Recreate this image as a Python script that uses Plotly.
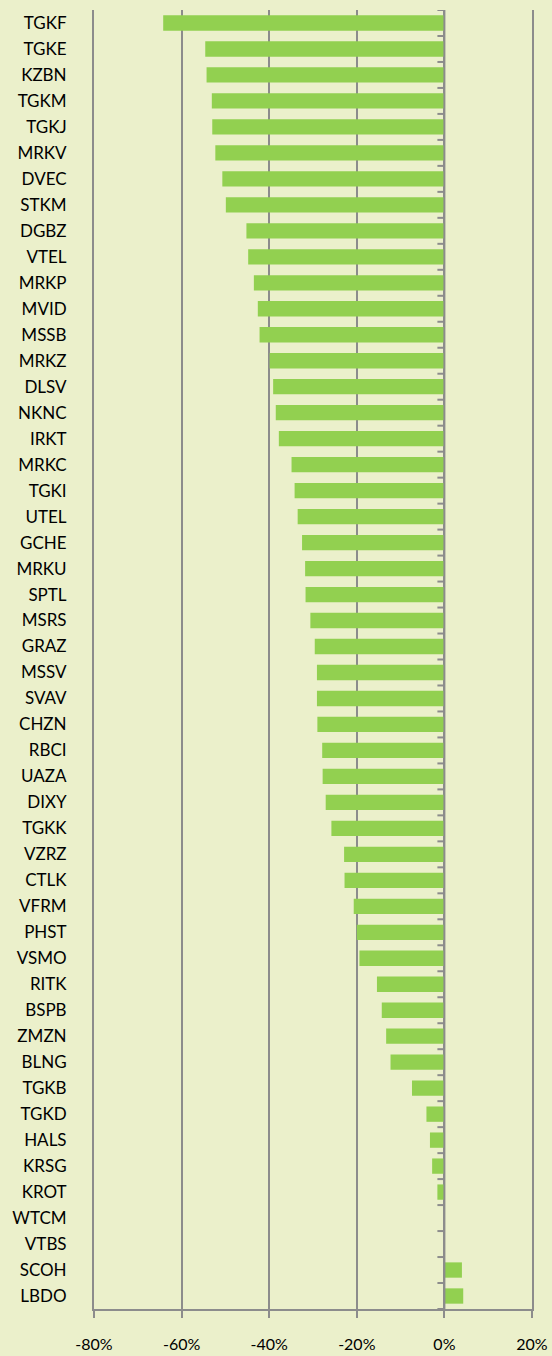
import plotly.graph_objects as go

categories = ["TGKF", "TGKE", "KZBN", "TGKM", "TGKJ", "MRKV", "DVEC", "STKM", "DGBZ", "VTEL",
              "MRKP", "MVID", "MSSB", "MRKZ", "DLSV", "NKNC", "IRKT", "MRKC", "TGKI", "UTEL",
              "GCHE", "MRKU", "SPTL", "MSRS", "GRAZ", "MSSV", "SVAV", "CHZN", "RBCI", "UAZA",
              "DIXY", "TGKK", "VZRZ", "CTLK", "VFRM", "PHST", "VSMO", "RITK", "BSPB", "ZMZN",
              "BLNG", "TGKB", "TGKD", "HALS", "KRSG", "KROT", "WTCM", "VTBS", "SCOH", "LBDO"]

values = [-64.2, -54.6, -54.3, -53.1, -53.0, -52.3, -50.7, -49.9, -45.2, -44.8,
          -43.5, -42.6, -42.2, -39.9, -39.1, -38.5, -37.8, -34.9, -34.2, -33.5,
          -32.5, -31.8, -31.7, -30.6, -29.6, -29.1, -29.1, -29.0, -27.9, -27.8,
          -27.1, -25.8, -22.9, -22.8, -20.7, -20.0, -19.4, -15.4, -14.3, -13.3,
          -12.3, -7.4, -4.1, -3.3, -2.8, -1.6, 0.0, 0.0, 4.0, 4.3]

x_tick_values = [-80, -60, -40, -20, 0, 20]
x_tick_labels = ["-80%", "-60%", "-40%", "-20%", "0%", "20%"]

BG = "rgb(235,240,203)"
GRID = "#8c8c8c"
FONT = "Lato"

n = len(categories)
positions = list(range(n))

fig = go.Figure(go.Bar(
    x=values, y=positions, orientation="h",
    marker=dict(color="#92D050", line=dict(width=0)),
    hoverinfo="x+text", text=categories, textposition="none",
))

# category tick marks on the vertical axis at 0
shapes = []
for k in range(n + 1):
    yb = k - 0.5
    shapes.append(dict(type="line", xref="x", yref="y", xsizemode="pixel", xanchor=0,
                       x0=-7, x1=0, y0=yb, y1=yb, line=dict(color=GRID, width=2), layer="above"))
# vertical axis line at 0
shapes.append(dict(type="line", xref="x", yref="paper", x0=0, x1=0, y0=0, y1=1,
                   line=dict(color=GRID, width=2), layer="above"))

fig.update_layout(
    width=552, height=1356,
    margin=dict(l=94, r=20, t=10, b=47),
    paper_bgcolor=BG, plot_bgcolor=BG,
    font=dict(family=FONT, size=17, color="#000000"),
    bargap=0.41,
    showlegend=False,
    shapes=shapes,
    xaxis=dict(
        range=[-80, 20], tickvals=x_tick_values, ticktext=x_tick_labels,
        showgrid=True, gridcolor=GRID, gridwidth=2,
        zeroline=False,
        showline=True, linecolor=GRID, linewidth=2, mirror=False,
        ticks="outside", ticklen=7, tickwidth=2, tickcolor=GRID,
        ticklabelstandoff=13,
        tickfont=dict(family=FONT, size=16, color="#000000"),
        automargin=False,
        fixedrange=True,
    ),
    yaxis=dict(
        range=[n - 0.5, -0.5], tickvals=positions, ticktext=categories,
        showgrid=False, zeroline=False,
        showline=True, linecolor=GRID, linewidth=2, mirror=True, ticks="",
        ticklabelstandoff=22,
        tickfont=dict(family=FONT, size=17, color="#000000"),
        automargin=False,
        fixedrange=True,
    ),
)

fig.write_html(
    "out.html",
    config={"displayModeBar": False},
    post_script="document.body.style.margin='0';document.body.style.padding='0';document.body.style.overflow='hidden';",
)
